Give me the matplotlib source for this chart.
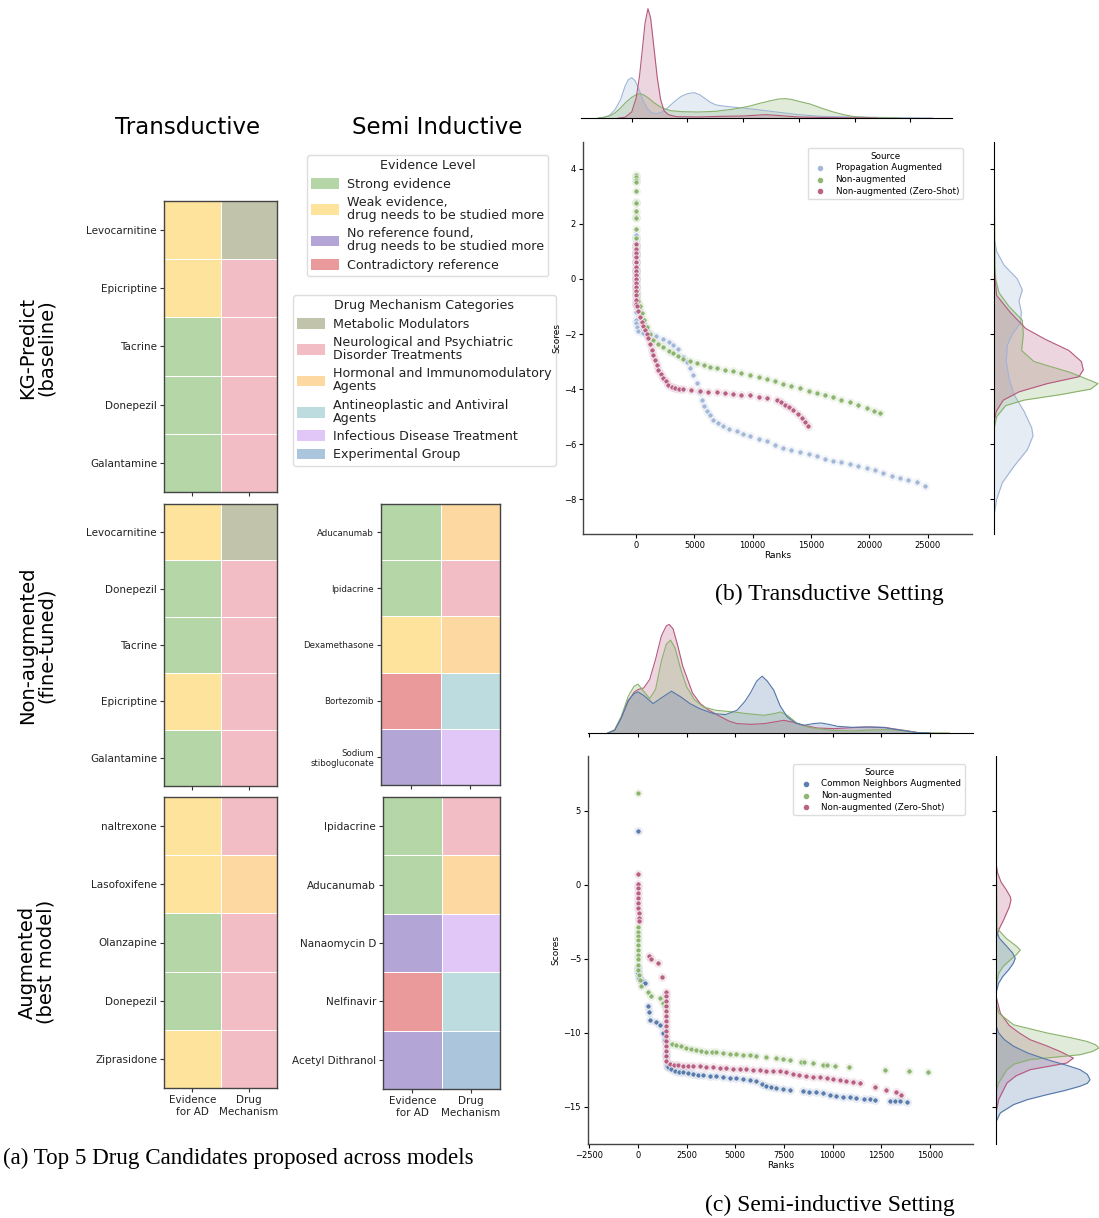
import numpy as np
import matplotlib
matplotlib.use('Agg')
import matplotlib.pyplot as plt
from matplotlib.colors import ListedColormap
from matplotlib.patches import Patch

# ------------------------------------------------------------------
# Heatmap data (panel a)
# ------------------------------------------------------------------
evidence_keys = ['strong', 'weak', 'none', 'contra']
evidence_labels = ['Strong evidence',
                   'Weak evidence,\ndrug needs to be studied more',
                   'No reference found,\ndrug needs to be studied more',
                   'Contradictory reference']
evidence_colors = ['#b5d6a7', '#fde39b', '#b3a6d6', '#ea9a9a']

mech_keys = ['metabolic', 'neuro', 'hormonal', 'antineo', 'infect', 'exper']
mech_labels = ['Metabolic Modulators',
               'Neurological and Psychiatric\nDisorder Treatments',
               'Hormonal and Immunomodulatory\nAgents',
               'Antineoplastic and Antiviral\nAgents',
               'Infectious Disease Treatment',
               'Experimental Group']
mech_colors = ['#c1c4aa', '#f2bdc4', '#fdd8a0', '#bcdcdf', '#e1c7f8', '#abc6dc']

col_labels = ['Evidence\nfor AD', 'Drug\nMechanism']

trans_kg_drugs = ['Levocarnitine', 'Epicriptine', 'Tacrine', 'Donepezil', 'Galantamine']
trans_kg_evidence = ['weak', 'weak', 'strong', 'strong', 'strong']
trans_kg_mech = ['metabolic', 'neuro', 'neuro', 'neuro', 'neuro']

trans_na_drugs = ['Levocarnitine', 'Donepezil', 'Tacrine', 'Epicriptine', 'Galantamine']
trans_na_evidence = ['weak', 'strong', 'strong', 'weak', 'strong']
trans_na_mech = ['metabolic', 'neuro', 'neuro', 'neuro', 'neuro']

trans_aug_drugs = ['naltrexone', 'Lasofoxifene', 'Olanzapine', 'Donepezil', 'Ziprasidone']
trans_aug_evidence = ['weak', 'weak', 'strong', 'strong', 'weak']
trans_aug_mech = ['neuro', 'hormonal', 'neuro', 'neuro', 'neuro']

semi_na_drugs = ['Aducanumab', 'Ipidacrine', 'Dexamethasone', 'Bortezomib', 'Sodium\nstibogluconate']
semi_na_evidence = ['strong', 'strong', 'weak', 'contra', 'none']
semi_na_mech = ['hormonal', 'neuro', 'hormonal', 'antineo', 'infect']

semi_aug_drugs = ['Ipidacrine', 'Aducanumab', 'Nanaomycin D', 'Nelfinavir', 'Acetyl Dithranol']
semi_aug_evidence = ['strong', 'strong', 'none', 'contra', 'none']
semi_aug_mech = ['neuro', 'hormonal', 'infect', 'antineo', 'exper']

# ------------------------------------------------------------------
# Scatter data (panel b, transductive)
# ------------------------------------------------------------------
b_prop_rank = [0, 0, 0, 0, 0, 0, 0, 0, 0, 0, 0, 0, 30, 60, 150, 600, 900, 1200, 1700, 2340, 2800,
               3200, 3600, 4060, 4350, 4630, 4900, 5200, 5400, 5630, 5850, 6060, 6300, 6630, 7000,
               7490, 8000, 8630, 9200, 9770, 10500, 11200, 11900, 12630, 13300, 14060, 14800, 15490,
               16200, 16910, 17600, 18340, 19000, 19770, 20500, 21200, 21900, 22630, 23300, 24060, 24770]
b_prop_score = [1.6, 1.45, 1.2, 0.9, 0.6, 0.3, 0.0, -0.3, -0.6, -0.9, -1.2, -1.5, -1.6, -1.75, -1.9,
                -1.95, -1.98, -2.0, -2.08, -2.19, -2.3, -2.4, -2.55, -2.82, -3.0, -3.24, -3.5, -3.78,
                -4.1, -4.39, -4.6, -4.79, -4.95, -5.11, -5.24, -5.35, -5.44, -5.53, -5.62, -5.72,
                -5.81, -5.9, -6.02, -6.14, -6.22, -6.3, -6.37, -6.44, -6.52, -6.6, -6.66, -6.72,
                -6.79, -6.86, -6.95, -7.05, -7.14, -7.23, -7.3, -7.38, -7.5]

b_na_rank = [0, 0, 0, 0, 0, 0, 0, 0, 0, 0, 0, 0, 0, 0, 0, 0, 0, 20, 60, 150, 340, 500, 700, 900,
             1200, 1490, 1900, 2340, 2800, 3200, 3600, 4060, 4600, 5200, 5800, 6300, 6900, 7600,
             8340, 9000, 9770, 10500, 11200, 11900, 12630, 13300, 14060, 14800, 15490, 16200,
             16910, 17600, 18340, 19000, 19770, 20400, 20910]
b_na_score = [3.78, 3.7, 3.6, 3.5, 3.2, 2.8, 2.75, 2.45, 2.25, 2.2, 1.8, 1.5, 1.2, 0.9, 0.6, 0.3,
              0.0, -0.3, -0.55, -0.8, -1.0, -1.25, -1.5, -1.73, -2.0, -2.21, -2.35, -2.47, -2.6,
              -2.7, -2.8, -2.9, -2.98, -3.06, -3.13, -3.18, -3.24, -3.3, -3.36, -3.42, -3.48,
              -3.56, -3.64, -3.72, -3.81, -3.88, -3.96, -4.06, -4.15, -4.22, -4.3, -4.39, -4.48,
              -4.58, -4.69, -4.78, -4.86]

b_zs_rank = [0, 0, 0, 0, 0, 0, 0, 0, 0, 0, 0, 0, 0, 0, 20, 50, 200, 350, 490, 630, 770, 920, 1060,
             1200, 1340, 1490, 1630, 1770, 1910, 2100, 2340, 2550, 2770, 3050, 3340, 3700, 4060,
             4700, 5490, 6200, 6910, 7600, 8340, 9000, 9770, 10500, 11200, 12060, 12450, 12770,
             13150, 13490, 13850, 14200, 14500, 14710]
b_zs_score = [1.25, 1.1, 0.95, 0.8, 0.6, 0.45, 0.3, 0.15, 0.0, -0.15, -0.3, -0.45, -0.6, -0.75,
              -0.9, -1.0, -1.18, -1.37, -1.55, -1.7, -1.85, -2.0, -2.15, -2.36, -2.58, -2.76,
              -2.94, -3.12, -3.3, -3.45, -3.6, -3.72, -3.84, -3.92, -3.96, -3.98, -4.0, -4.04,
              -4.08, -4.1, -4.12, -4.14, -4.17, -4.2, -4.23, -4.28, -4.33, -4.39, -4.47, -4.57,
              -4.66, -4.75, -4.9, -5.05, -5.2, -5.33]

# marginal densities (relative units)
b_top_prop_x = [-3000, -2500, -2000, -1500, -1000, -600, -300, 0, 300, 600, 1000, 1400, 1800, 2200,
                2700, 3200, 3800, 4400, 5000, 5600, 6100, 6600, 7100, 7600, 8200, 9000, 10000,
                11000, 12000, 13500, 15000, 17000, 20000, 24000, 27000]
b_top_prop_y = [0, 2, 8, 25, 55, 95, 115, 121, 112, 90, 55, 28, 16, 13, 18, 30, 48, 64, 73, 76, 70,
                58, 46, 39, 36, 33, 30, 26, 22, 16, 10, 5, 3, 1, 0]
b_top_na_x = [-3000, -2500, -2000, -1500, -1000, -500, 0, 400, 750, 1100, 1500, 2000, 2500, 3000,
              3500, 4500, 6000, 7500, 9000, 10500, 11500, 12500, 13200, 13750, 14300, 15000, 16000,
              17000, 18000, 19000, 20000, 21500, 24000]
b_top_na_y = [0, 2, 6, 15, 30, 48, 62, 70, 73, 69, 60, 46, 35, 27, 22, 19, 18, 20, 26, 35, 44, 52,
              57, 58, 56, 50, 42, 30, 19, 10, 4, 1, 0]
b_top_zs_x = [-1200, -600, 0, 400, 700, 1000, 1200, 1460, 1700, 2000, 2300, 2600, 2900, 3300, 4000,
              6000, 8000, 10000, 12000, 13000, 15000, 18000, 22000]
b_top_zs_y = [0, 2, 18, 60, 125, 220, 285, 328, 300, 210, 120, 55, 22, 10, 4, 3, 5, 6, 10, 8, 3, 1, 0]

b_right_prop_s = [1.5, 1.0, 0.5, 0.0, -0.4, -0.8, -1.2, -1.6, -2.0, -2.4, -3.0, -3.6, -4.2, -4.8,
                  -5.4, -5.7, -6.2, -6.8, -7.4, -8.0, -8.6]
b_right_prop_w = [0, 8, 30, 70, 85, 75, 82, 80, 55, 40, 37, 45, 60, 90, 113, 117, 100, 60, 25, 8, 0]
b_right_na_s = [3.8, 2.0, 0.5, 0.0, -0.5, -1.0, -1.5, -2.0, -2.6, -3.0, -3.4, -3.8, -4.0, -4.2,
                -4.4, -4.6, -5.0, -5.4, -6.0]
b_right_na_w = [1, 2, 3, 5, 15, 45, 85, 88, 83, 120, 230, 312, 290, 200, 90, 35, 8, 1, 0]
b_right_zs_s = [0.5, 0.0, -0.6, -1.2, -1.8, -2.2, -2.6, -3.0, -3.3, -3.55, -3.8, -4.1, -4.4, -4.8, -5.2]
b_right_zs_w = [0, 3, 8, 48, 95, 155, 225, 262, 268, 255, 160, 75, 28, 7, 0]

# ------------------------------------------------------------------
# Scatter data (panel c, semi-inductive)
# ------------------------------------------------------------------
c_cn_rank = [0, 0, 0, 30, 200, 350, 510, 550, 600, 910, 1110, 1290, 1400, 1450, 1500, 1540, 1700,
             1890, 2100, 2310, 2550, 2830, 3100, 3340, 3700, 4030, 4350, 4710, 5050, 5400, 5750,
             6090, 6350, 6600, 6850, 7110, 7450, 7800, 8490, 8800, 9170, 9500, 9860, 10200, 10540,
             10900, 11230, 11600, 11910, 12200, 12940, 13200, 13450, 13830]
c_cn_score = [3.65, -5.6, -5.94, -6.28, -6.5, -6.66, -8.18, -8.59, -9.13, -9.26, -9.48, -9.98,
              -10.5, -11.5, -12.2, -12.33, -12.45, -12.56, -12.62, -12.67, -12.72, -12.78, -12.82,
              -12.85, -12.9, -12.94, -12.98, -13.03, -13.07, -13.12, -13.18, -13.27, -13.42,
              -13.57, -13.66, -13.74, -13.8, -13.86, -13.92, -13.96, -14.01, -14.08, -14.17,
              -14.24, -14.3, -14.35, -14.39, -14.43, -14.46, -14.5, -14.57, -14.6, -14.62, -14.69]

c_na_rank = [0, 0, 0, 0, 0, 0, 0, 0, 0, 0, 0, 50, 90, 170, 510, 690, 1110, 1290, 1370, 1750, 1970,
             2200, 2490, 2750, 3000, 3250, 3510, 3800, 4030, 4350, 4710, 5050, 5400, 5750, 6090,
             6600, 7110, 7450, 7800, 8400, 8550, 9000, 9510, 9700, 10110, 10850, 12680, 13920, 14910]
c_na_score = [6.17, -2.85, -3.2, -3.48, -3.75, -4.04, -4.37, -4.71, -5.04, -5.38, -5.72, -6.1,
              -6.4, -6.84, -7.22, -7.51, -7.62, -7.96, -8.18, -10.75, -10.83, -10.9, -10.99,
              -11.08, -11.17, -11.22, -11.26, -11.3, -11.32, -11.36, -11.39, -11.42, -11.46,
              -11.5, -11.55, -11.61, -11.7, -11.76, -11.84, -11.95, -11.97, -12.06, -12.15,
              -12.17, -12.22, -12.31, -12.49, -12.58, -12.65]

c_zs_rank = [0, 0, 0, 0, 0, 10, 20, 30, 40, 50, 550, 690, 1050, 1250, 1420, 1420, 1420, 1420, 1420,
             1420, 1420, 1420, 1420, 1420, 1420, 1420, 1420, 1420, 1420, 1630, 1850, 2060, 2300,
             2570, 2850, 3170, 3500, 3860, 4200, 4540, 4900, 5230, 5550, 5910, 6250, 6600, 6950,
             7290, 7600, 7970, 8300, 8660, 9000, 9340, 9700, 10030, 10400, 10710, 11050, 11400,
             12170, 12770, 13280, 13540]
c_zs_score = [0.74, 0.07, -0.22, -0.56, -0.9, -1.23, -1.57, -1.91, -2.24, -2.47, -4.78, -5.04,
              -5.31, -6.19, -7.22, -7.51, -7.85, -8.18, -8.52, -8.86, -9.19, -9.53, -9.87, -10.2,
              -10.54, -10.87, -11.21, -11.55, -11.88, -12.11, -12.14, -12.17, -12.2, -12.22,
              -12.24, -12.26, -12.3, -12.33, -12.35, -12.38, -12.41, -12.44, -12.46, -12.49,
              -12.52, -12.56, -12.58, -12.6, -12.67, -12.74, -12.82, -12.89, -12.95, -13.0,
              -13.06, -13.12, -13.2, -13.27, -13.34, -13.41, -13.68, -13.83, -14.01, -14.17]

c_top_cn_x = [-1550, -1200, -860, -500, -200, 0, 300, 780, 1200, 1720, 2200, 2670, 3200, 3880,
              4500, 5090, 5500, 5780, 6100, 6380, 6650, 6980, 7300, 7670, 8100, 8530, 9000, 9400,
              9800, 10260, 11000, 11810, 12670, 13100, 13530, 14400, 15000]
c_top_cn_y = [0, 8, 45, 98, 118, 123, 112, 88, 105, 125, 108, 88, 72, 58, 55, 68, 95, 120, 155,
              170, 155, 128, 82, 48, 30, 23, 28, 30, 26, 20, 17, 18, 16, 12, 8, 1, 0]
c_top_na_x = [-1550, -1200, -860, -500, -200, 0, 250, 600, 900, 1200, 1450, 1670, 1900, 2200, 2500,
              2900, 3360, 4000, 4900, 5600, 6470, 7000, 7330, 7700, 8190, 8700, 9220, 10000, 10950,
              12000, 12670, 13500, 14400, 16000]
c_top_na_y = [0, 10, 50, 110, 140, 146, 128, 103, 130, 215, 265, 278, 255, 190, 138, 100, 78, 68,
              63, 58, 53, 58, 63, 52, 28, 18, 13, 8, 6, 9, 10, 8, 1, 0]
c_top_zs_x = [-1550, -1200, -860, -500, -200, 0, 300, 600, 900, 1200, 1450, 1600, 1800, 2050, 2300,
              2500, 2800, 3200, 3600, 4200, 4700, 5100, 5800, 6470, 7000, 7500, 8000, 8530, 9200,
              10090, 11000, 11800, 12670, 13200, 13700, 14400, 15000]
c_top_zs_y = [0, 8, 45, 95, 122, 130, 135, 160, 220, 290, 320, 325, 312, 260, 200, 168, 120, 88,
              70, 50, 35, 28, 26, 28, 33, 38, 32, 23, 15, 13, 16, 18, 17, 12, 8, 1, 0]

c_right_cn_s = [-3.0, -3.6, -4.17, -4.6, -4.96, -5.3, -5.74, -6.2, -6.64, -7.3, -9.5, -10.0, -10.45,
                -10.9, -11.35, -11.8, -12.2, -12.48, -12.8, -13.16, -13.4, -13.6, -13.9, -14.17,
                -14.5, -14.84, -15.4, -16.0]
c_right_cn_w = [0, 10, 33, 50, 58, 52, 38, 20, 8, 0, 0, 8, 25, 53, 95, 153, 215, 253, 275, 283,
                275, 253, 205, 153, 95, 53, 13, 0]
c_right_na_s = [6.5, 2.0, -2.93, -3.6, -4.17, -4.4, -4.7, -5.07, -5.5, -5.97, -6.9, -8.0, -8.66,
                -9.45, -10.0, -10.3, -10.57, -10.8, -11.02, -11.25, -11.47, -11.8, -12.1, -12.48,
                -13.38, -14.0]
c_right_na_w = [1, 1, 3, 30, 63, 73, 62, 43, 22, 8, 0, 0, 8, 53, 153, 220, 273, 300, 310, 290, 253,
                103, 55, 33, 8, 0]
c_right_zs_s = [1.45, 0.8, 0.2, -0.3, -0.8, -1.02, -1.5, -2.0, -2.37, -3.04, -3.6, -7.5, -8.66,
                -9.5, -10.0, -10.46, -10.85, -11.25, -11.7, -12.03, -12.25, -12.48, -12.9, -13.38,
                -14.5, -15.4]
c_right_zs_w = [0, 5, 15, 30, 43, 45, 40, 30, 23, 8, 0, 0, 13, 40, 70, 103, 150, 193, 233, 213,
                160, 103, 60, 33, 8, 0]

b_colors = {'prop': '#9fb5d6', 'na': '#88b26a', 'zs': '#b5597f'}
c_colors = {'cn': '#5377aa', 'na': '#88b26a', 'zs': '#b5597f'}

# ------------------------------------------------------------------
W, H = 1099, 1218
fig = plt.figure(figsize=(W / 100, H / 100), dpi=100)


def px_axes(x0, y0, x1, y1):
    return fig.add_axes([x0 / W, 1 - y1 / H, (x1 - x0) / W, (y1 - y0) / H])


all_colors = evidence_colors + mech_colors
cmap = ListedColormap(all_colors)


def heatmap(box, drugs, evidence, mech, label_size=7.5, show_xlabels=False):
    ax = px_axes(*box)
    codes = np.array([[evidence_keys.index(e), len(evidence_keys) + mech_keys.index(m)]
                      for e, m in zip(evidence, mech)])
    ax.pcolormesh(codes, cmap=cmap, vmin=-0.5, vmax=len(all_colors) - 0.5,
                  edgecolors='white', linewidth=0.6)
    ax.set_ylim(len(drugs), 0)
    ax.set_xlim(0, 2)
    ax.set_yticks(np.arange(len(drugs)) + 0.5)
    ax.set_yticklabels(drugs, fontsize=label_size, color='#222222')
    ax.set_xticks([0.5, 1.5])
    if show_xlabels:
        ax.set_xticklabels(col_labels, fontsize=7.5, color='#222222')
    else:
        ax.set_xticklabels([])
    ax.tick_params(length=3, width=0.8, color='#333333', pad=2)
    for sp in ax.spines.values():
        sp.set_color('#444444')
        sp.set_linewidth(1.0)
    return ax


heatmap((164, 201, 277, 492), trans_kg_drugs, trans_kg_evidence, trans_kg_mech)
heatmap((164, 504, 277, 786), trans_na_drugs, trans_na_evidence, trans_na_mech)
heatmap((164, 797, 277, 1088), trans_aug_drugs, trans_aug_evidence, trans_aug_mech, show_xlabels=True)
heatmap((381, 504, 500, 785), semi_na_drugs, semi_na_evidence, semi_na_mech, label_size=6.2)
heatmap((383, 797, 500, 1089), semi_aug_drugs, semi_aug_evidence, semi_aug_mech, show_xlabels=True)

fig.text(188 / W, 1 - 128 / H, 'Transductive', ha='center', va='center', fontsize=16.5)
fig.text(437 / W, 1 - 128 / H, 'Semi Inductive', ha='center', va='center', fontsize=16.5)
for label, yc in [('KG-Predict\n(baseline)', 348), ('Non-augmented\n(fine-tuned)', 645),
                  ('Augmented\n(best model)', 962)]:
    fig.text(37 / W, 1 - yc / H, label, rotation=90, ha='center', va='center',
             fontsize=14, multialignment='center', linespacing=1.0)

leg_kw = dict(loc='upper left', labelspacing=0.42, handlelength=2.2, handleheight=0.9,
              borderpad=0.35, handletextpad=0.6, borderaxespad=0, framealpha=1,
              edgecolor='#dddddd')
ev_handles = [Patch(facecolor=c, edgecolor='none', label=l) for c, l in zip(evidence_colors, evidence_labels)]
leg1 = fig.legend(handles=ev_handles, title='Evidence Level',
                  bbox_to_anchor=(307 / W, 1 - 155 / H), fontsize=9.1, title_fontsize=9.1, **leg_kw)
mech_handles = [Patch(facecolor=c, edgecolor='none', label=l) for c, l in zip(mech_colors, mech_labels)]
leg2 = fig.legend(handles=mech_handles, title='Drug Mechanism Categories',
                  bbox_to_anchor=(293 / W, 1 - 295 / H), fontsize=9.1, title_fontsize=9.1, **leg_kw)
for lg in (leg1, leg2):
    lg.set_zorder(-1)
    lg.get_title().set_color('#222222')
    for t in lg.get_texts():
        t.set_linespacing(1.0)
        t.set_color('#222222')


# ------------------------------------------------------------------
def style_main(ax):
    for sp in ['top', 'right']:
        ax.spines[sp].set_visible(False)
    for sp in ['left', 'bottom']:
        ax.spines[sp].set_color('#444444')
        ax.spines[sp].set_linewidth(1.0)
    ax.tick_params(labelsize=6, length=3, width=0.8, pad=2)
    ax.set_xlabel('Ranks', fontsize=6.5, labelpad=1)
    ax.set_ylabel('Scores', fontsize=6.5, labelpad=2)


def scatter_series(ax, ranks, scores, color, label):
    ax.scatter(ranks, scores, s=40, color=color, alpha=0.15, lw=0, zorder=2)
    ax.scatter(ranks, scores, s=14, color=color, edgecolor='white', linewidth=0.5,
               alpha=0.95, label=label, zorder=3)


def top_margin(box, xlim, ylim, xticks, curves):
    ax = px_axes(*box)
    for x, y, c in curves:
        ax.fill_between(x, 0, y, color=c, alpha=0.25, lw=0)
        ax.plot(x, y, color=c, lw=0.8)
    ax.set_xlim(*xlim)
    ax.set_ylim(*ylim)
    ax.set_xticks(xticks)
    ax.set_xticklabels([])
    ax.set_yticks([])
    for sp in ['top', 'right', 'left']:
        ax.spines[sp].set_visible(False)
    ax.tick_params(length=3, width=0.8)
    ax.patch.set_alpha(0)
    return ax


def right_margin(box, xlim, ylim, yticks, curves):
    ax = px_axes(*box)
    for y, x, c in curves:
        ax.fill_betweenx(y, 0, x, color=c, alpha=0.25, lw=0)
        ax.plot(x, y, color=c, lw=0.8)
    ax.set_xlim(*xlim)
    ax.set_ylim(*ylim)
    ax.set_yticks(yticks)
    ax.set_yticklabels([])
    ax.set_xticks([])
    for sp in ['top', 'right', 'bottom']:
        ax.spines[sp].set_visible(False)
    ax.tick_params(length=3, width=0.8)
    ax.patch.set_alpha(0)
    return ax


src_leg_kw = dict(title='Source', loc='upper right', fontsize=6.3, title_fontsize=6.3,
                  markerscale=1.2, borderpad=0.4, labelspacing=0.3, handletextpad=0.8,
                  edgecolor='#dddddd', framealpha=1)

# panel b
axb = px_axes(583, 142, 972, 534)
axb.patch.set_alpha(0)
scatter_series(axb, b_prop_rank, b_prop_score, b_colors['prop'], 'Propagation Augmented')
scatter_series(axb, b_na_rank, b_na_score, b_colors['na'], 'Non-augmented')
scatter_series(axb, b_zs_rank, b_zs_score, b_colors['zs'], 'Non-augmented (Zero-Shot)')
axb.set_xlim(-4550, 28800)
axb.set_ylim(-9.26, 4.97)
axb.set_xticks([0, 5000, 10000, 15000, 20000, 25000])
axb.set_yticks([-8, -6, -4, -2, 0, 2, 4])
style_main(axb)
axb.legend(bbox_to_anchor=(0.987, 0.995), **src_leg_kw)

top_margin((581, 2, 952, 118), (-4550, 28750), (0, 348), [0, 5000, 10000, 15000, 20000, 25000],
           [(b_top_prop_x, b_top_prop_y, b_colors['prop']),
            (b_top_na_x, b_top_na_y, b_colors['na']),
            (b_top_zs_x, b_top_zs_y, b_colors['zs'])])
right_margin((994, 142, 1099, 534), (0, 315), (-9.26, 4.97), [-8, -6, -4, -2, 0, 2, 4],
             [(b_right_prop_s, b_right_prop_w, b_colors['prop']),
              (b_right_na_s, b_right_na_w, b_colors['na']),
              (b_right_zs_s, b_right_zs_w, b_colors['zs'])])

# panel c
axc = px_axes(588, 756, 973, 1144)
scatter_series(axc, c_cn_rank, c_cn_score, c_colors['cn'], 'Common Neighbors Augmented')
scatter_series(axc, c_na_rank, c_na_score, c_colors['na'], 'Non-augmented')
scatter_series(axc, c_zs_rank, c_zs_score, c_colors['zs'], 'Non-augmented (Zero-Shot)')
axc.set_xlim(-2570, 17220)
axc.set_ylim(-17.5, 8.7)
axc.set_xticks([-2500, 0, 2500, 5000, 7500, 10000, 12500, 15000])
axc.set_yticks([-15, -10, -5, 0, 5])
style_main(axc)
axc.legend(bbox_to_anchor=(0.99, 0.99), **src_leg_kw)

top_margin((588, 612, 973, 733), (-2570, 17220), (0, 362),
           [-2500, 0, 2500, 5000, 7500, 10000, 12500, 15000],
           [(c_top_zs_x, c_top_zs_y, c_colors['zs']),
            (c_top_na_x, c_top_na_y, c_colors['na']),
            (c_top_cn_x, c_top_cn_y, c_colors['cn'])])
right_margin((996, 756, 1099, 1144), (0, 310), (-17.5, 8.7), [-15, -10, -5, 0, 5],
             [(c_right_zs_s, c_right_zs_w, c_colors['zs']),
              (c_right_na_s, c_right_na_w, c_colors['na']),
              (c_right_cn_s, c_right_cn_w, c_colors['cn'])])

# captions
serif = ['Liberation Serif', 'DejaVu Serif']
fig.text(3 / W, 1 - 1158 / H, '(a) Top 5 Drug Candidates proposed across models', ha='left',
         va='center', fontsize=16.6, family=serif)
fig.text(829 / W, 1 - 594 / H, '(b) Transductive Setting', ha='center', va='center',
         fontsize=17, family=serif)
fig.text(830 / W, 1 - 1205 / H, '(c) Semi-inductive Setting', ha='center', va='center',
         fontsize=17, family=serif)

fig.savefig('out.png', dpi=100)
